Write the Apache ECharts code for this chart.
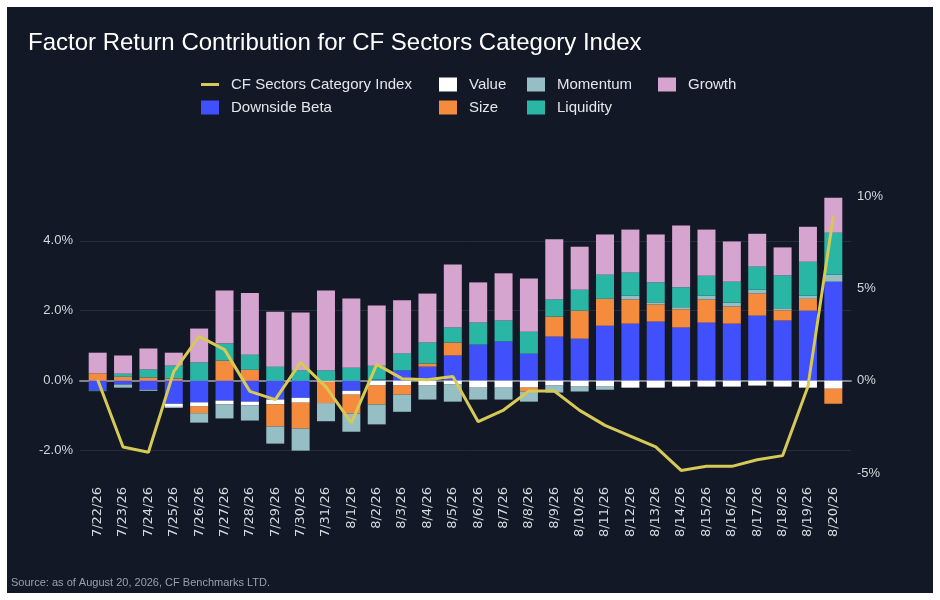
<!DOCTYPE html>
<html>
<head>
<meta charset="utf-8">
<script src="https://cdn.jsdelivr.net/npm/echarts@6/dist/echarts.min.js"></script>
<style>
  html, body { margin: 0; padding: 0; background: #ffffff; }
  #chart { width: 940px; height: 600px; }
</style>
</head>
<body>
<div id="chart"></div>
<script>
// categories
var dates = ['7/22/26','7/23/26','7/24/26','7/25/26','7/26/26','7/27/26','7/28/26','7/29/26','7/30/26','7/31/26',
  '8/1/26','8/2/26','8/3/26','8/4/26','8/5/26','8/6/26','8/7/26','8/8/26','8/9/26','8/10/26',
  '8/11/26','8/12/26','8/13/26','8/14/26','8/15/26','8/16/26','8/17/26','8/18/26','8/19/26','8/20/26'];

// factor contributions (%), left axis
var downsideBeta = [-0.28,-0.11,-0.26,-0.66,-0.62,-0.57,-0.60,-0.54,-0.49,0,
  -0.29,0.03,0.29,0.40,0.72,1.03,1.12,0.77,1.26,1.20,
  1.57,1.63,1.69,1.52,1.66,1.63,1.86,1.72,2.00,2.83];
var value = [0,0,0,-0.09,-0.12,-0.11,-0.11,-0.14,-0.14,-0.03,
  -0.11,-0.14,-0.14,-0.14,-0.11,-0.20,-0.20,-0.20,-0.14,-0.17,
  -0.17,-0.20,-0.20,-0.17,-0.17,-0.17,-0.14,-0.17,-0.20,-0.23];
var size = [0.21,0.11,0.09,0.06,-0.19,0.57,0.31,-0.63,-0.74,-0.61,
  -0.54,-0.54,-0.26,0.09,0.37,0,0,-0.11,0.57,0.80,
  0.77,0.69,0.49,0.52,0.66,0.49,0.63,0.29,0.34,-0.43];
var momentum = [0,-0.09,-0.03,-0.03,-0.27,-0.40,-0.43,-0.49,-0.63,-0.52,
  -0.52,-0.57,-0.49,-0.40,-0.49,-0.34,-0.34,-0.29,-0.20,-0.14,
  -0.09,0.11,0.06,0.06,0.11,0.11,0.11,0.06,0.09,0.20];
var liquidity = [-0.02,0.09,0.23,0.37,0.52,0.49,0.43,0.40,0.29,0.29,
  0.37,0.40,0.49,0.60,0.43,0.63,0.60,0.63,0.49,0.60,
  0.69,0.66,0.57,0.57,0.57,0.60,0.66,0.94,0.97,1.20];
var growth = [0.59,0.52,0.60,0.37,0.97,1.52,1.77,1.57,1.66,2.29,
  1.98,1.72,1.52,1.40,1.80,1.15,1.35,1.52,1.72,1.23,
  1.15,1.23,1.37,1.77,1.32,1.15,0.94,0.80,1.00,1.00];

// index return (%), right axis
var indexReturn = [0.05,-3.59,-3.88,0.49,2.40,1.68,-0.58,-1.03,0.99,-0.34,
  -2.29,0.88,0.11,0.05,0.22,-2.22,-1.59,-0.56,-0.56,-1.61,
  -2.42,-3.00,-3.59,-4.86,-4.64,-4.64,-4.28,-4.06,-0.31,8.90];

var leftTicks = [-2, 0, 2, 4];

var myChart = echarts.init(document.getElementById('chart'));

var fontFam = 'Liberation Sans, Arial, sans-serif';
var labelColor = '#d5d8de';
var lineIcon = 'path://M0,0h0.001v14h-0.001zM0,5.5h18v3h-18z';

function bar(name, data, color) {
  return {
    name: name,
    type: 'bar',
    stack: 'factors',
    xAxisIndex: 0,
    yAxisIndex: 0,
    barWidth: 18,
    itemStyle: { color: color },
    data: data
  };
}

function legendCol(left, names) {
  return {
    orient: 'vertical',
    left: left,
    top: 72,
    itemWidth: 18,
    itemHeight: 14,
    itemGap: 8,
    icon: 'rect',
    textStyle: { color: '#e4e6ea', fontSize: 15, fontFamily: fontFam, padding: [0, 0, 0, 7] },
    data: names
  };
}

var option = {
  backgroundColor: '#ffffff',
  animation: false,
  textStyle: { fontFamily: fontFam },
  title: {
    text: 'Factor Return Contribution for CF Sectors Category Index',
    left: 23,
    top: 26,
    textStyle: { color: '#ffffff', fontSize: 24, fontWeight: 'normal', fontFamily: fontFam }
  },
  graphic: [
    { type: 'rect', z: -10, shape: { x: 7, y: 7, width: 926, height: 586 }, style: { fill: '#121826' } },
    { type: 'text', left: 11, top: 577,
      style: { text: 'Source: as of August 20, 2026, CF Benchmarks LTD.', fill: '#9aa0ab', fontSize: 11, fontFamily: fontFam } }
  ],
  legend: [
    legendCol(196, [{ name: 'CF Sectors Category Index', icon: lineIcon }, 'Downside Beta']),
    legendCol(434, ['Value', 'Size']),
    legendCol(522, ['Momentum', 'Liquidity']),
    legendCol(653, ['Growth'])
  ],
  grid: [
    { left: 85, right: 94, top: 196, bottom: 127 },
    { left: 80, right: 89, top: 196, bottom: 127 }
  ],
  xAxis: [
    {
      type: 'category',
      gridIndex: 0,
      data: dates,
      axisLine: { show: false },
      axisTick: { show: false },
      axisLabel: { rotate: 90, color: labelColor, fontSize: 13, margin: 14, fontFamily: 'DejaVu Sans, sans-serif' }
    },
    {
      type: 'value',
      gridIndex: 1,
      min: 0,
      max: 1,
      axisLine: { show: true, onZero: true, lineStyle: { color: '#7d828c', width: 2 } },
      axisTick: { show: false },
      axisLabel: { show: false },
      splitLine: { show: false }
    }
  ],
  yAxis: [
    {
      type: 'value',
      gridIndex: 0,
      min: -2.64,
      max: 5.28,
      show: false
    },
    {
      type: 'value',
      gridIndex: 0,
      position: 'right',
      min: -5,
      max: 10,
      interval: 5,
      axisLine: { show: false },
      axisTick: { show: false },
      splitLine: { show: false },
      axisLabel: { color: labelColor, fontSize: 13, margin: 11, fontFamily: fontFam,
        formatter: function (v) { return v + '%'; } }
    },
    {
      type: 'value',
      gridIndex: 1,
      min: -2.64,
      max: 5.28,
      axisLine: { show: false },
      axisTick: { show: false, customValues: leftTicks },
      axisLabel: { color: labelColor, fontSize: 13, margin: 7, fontFamily: fontFam, customValues: leftTicks,
        formatter: function (v) { return v.toFixed(1) + '%'; } },
      splitLine: { show: true, lineStyle: { color: '#252c3a', width: 1 } }
    }
  ],
  series: [
    bar('Downside Beta', downsideBeta, '#4050fc'),
    bar('Value', value, '#ffffff'),
    bar('Size', size, '#f58b3c'),
    bar('Momentum', momentum, '#96bec5'),
    bar('Liquidity', liquidity, '#2ab6a5'),
    bar('Growth', growth, '#d5a4cf'),
    {
      name: 'CF Sectors Category Index',
      type: 'line',
      xAxisIndex: 0,
      yAxisIndex: 1,
      z: 10,
      symbol: 'none',
      itemStyle: { color: '#d6c956' },
      lineStyle: { color: '#d6c956', width: 3 },
      data: indexReturn
    }
  ]
};

myChart.setOption(option);
</script>
</body>
</html>
